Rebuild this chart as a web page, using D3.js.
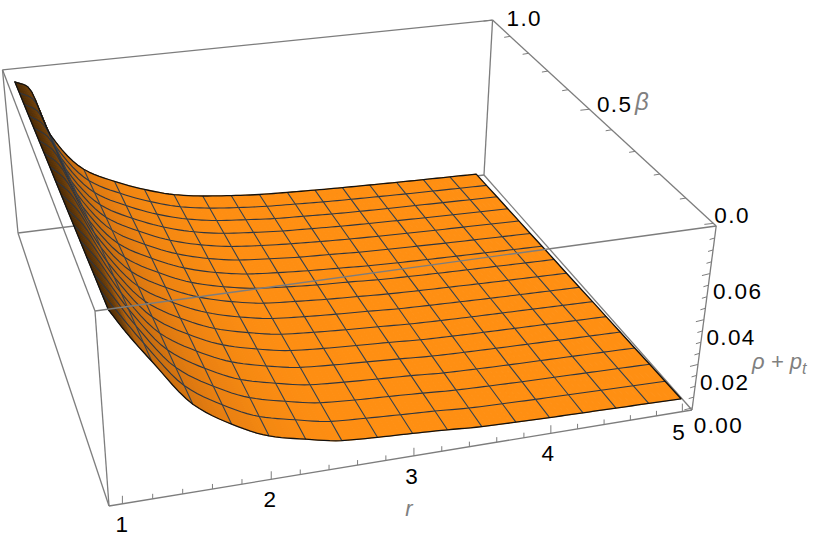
<!DOCTYPE html>
<html>
<head>
<meta charset="utf-8">
<script src="https://cdnjs.cloudflare.com/ajax/libs/d3/7.8.5/d3.min.js"></script>
<style>
  body { margin: 0; background: white; }
  text { font-family: "Liberation Sans", Arial, sans-serif; }
</style>
</head>
<body>
<div id="chart"></div>
<script>
// sample points along r (1.1 is only a sample, it carries no mesh line)
const rValues = [1, 1.1, 1.25, 1.5, 1.75, 2, 2.25, 2.5, 2.75, 3, 3.25, 3.5, 3.75, 4, 4.25, 4.5, 4.75, 5];
const rMesh = [1.25, 1.5, 1.75, 2, 2.25, 2.5, 2.75, 3, 3.25, 3.5, 3.75, 4, 4.25, 4.5, 4.75];
const betaValues = [0, 0.0625, 0.125, 0.1875, 0.25, 0.3125, 0.375, 0.4375, 0.5, 0.5625, 0.625, 0.6875, 0.75, 0.8125, 0.875, 0.9375, 1];

// rho + p_t, one list per r value, running over betaValues
const zAtR = [
  [.0785,.0782,.0779,.0776,.0773,.0770,.0767,.0764,.0761,.0759,.0756,.0753,.0750,.0747,.0744,.0741,.0738],
  [.0687,.0688,.0690,.0691,.0692,.0693,.0695,.0696,.0697,.0699,.0700,.0701,.0703,.0704,.0705,.0707,.0708],
  [.0557,.0551,.0545,.0539,.0533,.0528,.0522,.0516,.0510,.0504,.0498,.0492,.0487,.0481,.0475,.0469,.0463],
  [.0355,.0350,.0345,.0340,.0335,.0330,.0325,.0320,.0315,.0310,.0305,.0300,.0295,.0290,.0285,.0280,.0275],
  [.0245,.0242,.0239,.0236,.0233,.0229,.0226,.0223,.0220,.0217,.0214,.0211,.0208,.0204,.0201,.0198,.0195],
  [.0168,.0166,.0164,.0162,.0160,.0158,.0156,.0154,.0152,.0149,.0147,.0145,.0143,.0141,.0139,.0137,.0135],
  [.0128,.0126,.0123,.0121,.0118,.0116,.0114,.0111,.0109,.0107,.0104,.0102,.0100,.0097,.0095,.0092,.0090],
  [.0096,.0094,.0092,.0090,.0088,.0086,.0084,.0082,.0080,.0078,.0076,.0074,.0072,.0070,.0068,.0066,.0064],
  [.0085,.0083,.0080,.0078,.0076,.0073,.0071,.0069,.0067,.0064,.0062,.0060,.0057,.0055,.0053,.0050,.0048],
  [.0077,.0074,.0072,.0069,.0067,.0064,.0061,.0059,.0056,.0053,.0051,.0048,.0046,.0043,.0040,.0038,.0035],
  [.0068,.0066,.0063,.0061,.0058,.0056,.0053,.0051,.0048,.0046,.0043,.0041,.0038,.0036,.0033,.0031,.0028],
  [.0057,.0055,.0053,.0050,.0048,.0046,.0044,.0042,.0040,.0037,.0035,.0033,.0031,.0029,.0026,.0024,.0022],
  [.0052,.0050,.0048,.0045,.0043,.0041,.0039,.0037,.0035,.0032,.0030,.0028,.0026,.0024,.0021,.0019,.0017],
  [.0048,.0046,.0044,.0041,.0039,.0037,.0035,.0033,.0031,.0028,.0026,.0024,.0022,.0020,.0017,.0015,.0013],
  [.0045,.0043,.0041,.0038,.0036,.0034,.0032,.0029,.0027,.0025,.0023,.0020,.0018,.0016,.0014,.0011,.0009],
  [.0042,.0040,.0038,.0035,.0033,.0031,.0029,.0026,.0024,.0022,.0020,.0017,.0015,.0013,.0011,.0008,.0006],
  [.0039,.0037,.0035,.0032,.0030,.0028,.0026,.0023,.0021,.0019,.0017,.0014,.0012,.0010,.0008,.0005,.0003],
  [.0036,.0034,.0032,.0029,.0027,.0025,.0023,.0020,.0018,.0016,.0014,.0011,.0009,.0007,.0005,.0002,.0000]
];

const rTicks = [1, 2, 3, 4, 5];
const rMinor = [1.2, 1.4, 1.6, 1.8, 2.2, 2.4, 2.6, 2.8, 3.2, 3.4, 3.6, 3.8, 4.2, 4.4, 4.6, 4.8];
const betaTicks = [0, 0.5, 1];
const betaMinor = [0.1, 0.2, 0.3, 0.4, 0.6, 0.7, 0.8, 0.9];
const zTicks = [0, 0.02, 0.04, 0.06];
const zMinor = [0.005, 0.01, 0.015, 0.025, 0.03, 0.035, 0.045, 0.05, 0.055, 0.065, 0.07, 0.075];

const width = 817, height = 545;
const svg = d3.select("#chart").append("svg")
  .attr("width", width).attr("height", height);

// box limits
const rDomain = [0.912, 5.075], betaDomain = [-0.01, 1.0], zDomain = [-0.001, 0.08];
const uScale = d3.scaleLinear().domain(rDomain).range([0, 1]);
const vScale = d3.scaleLinear().domain(betaDomain).range([0, 1]);
const wScale = d3.scaleLinear().domain(zDomain).range([0, 1]);

// camera: projective map from the box onto the page
const cam = { o: [109, 506], u: [692, 410], v: [18, 233], w: [95, 311], pu: 0.0898, pv: 0.2912, pw: -0.065 };

function project(r, beta, z) {
  const u = uScale(r), v = vScale(beta), w = wScale(z);
  const den = 1 + cam.pu * u + cam.pv * v + cam.pw * w;
  return [0, 1].map(i => (cam.o[i]
    + u * ((1 + cam.pu) * cam.u[i] - cam.o[i])
    + v * ((1 + cam.pv) * cam.v[i] - cam.o[i])
    + w * ((1 + cam.pw) * cam.w[i] - cam.o[i])) / den);
}

const line = d3.line();
const [r0, r1] = rDomain, [b0, b1] = betaDomain, [z0, z1] = zDomain;

function edge(a, b) {
  svg.append("path")
    .attr("d", line([project(...a), project(...b)]))
    .attr("fill", "none")
    .attr("stroke", "#7d7d7d")
    .attr("stroke-width", 1.3);
}

// box edges behind the surface
edge([r0, b1, z0], [r1, b1, z0]);
edge([r0, b0, z0], [r0, b1, z0]);
edge([r1, b0, z0], [r1, b1, z0]);
edge([r0, b1, z0], [r0, b1, z1]);
edge([r1, b1, z0], [r1, b1, z1]);

// monotone hermite along r, no overshoot next to the steep wall
function tangent(i, j) {
  if (i === 0) return (zAtR[1][j] - zAtR[0][j]) / (rValues[1] - rValues[0]);
  if (i === rValues.length - 1) return (zAtR[i][j] - zAtR[i - 1][j]) / (rValues[i] - rValues[i - 1]);
  const a = (zAtR[i][j] - zAtR[i - 1][j]) / (rValues[i] - rValues[i - 1]);
  const b = (zAtR[i + 1][j] - zAtR[i][j]) / (rValues[i + 1] - rValues[i]);
  return a * b <= 0 ? 0 : 2 * a * b / (a + b);
}
function zAt(i, t, j) {
  const h = rValues[i + 1] - rValues[i];
  const t2 = t * t, t3 = t2 * t;
  return (2 * t3 - 3 * t2 + 1) * zAtR[i][j] + (t3 - 2 * t2 + t) * h * tangent(i, j)
    + (-2 * t3 + 3 * t2) * zAtR[i + 1][j] + (t3 - t2) * h * tangent(i + 1, j);
}

// steepness at a sample, the wall next to r = 1 is set by hand
const wallSlopes = [0.14, 0.12];
function slopeAt(i, j) {
  if (i < wallSlopes.length) return wallSlopes[i];
  const hi = Math.min(rValues.length - 1, i + 1);
  return (zAtR[i - 1][j] - zAtR[hi][j]) / (rValues[hi] - rValues[i - 1]);
}

const shade = d3.scaleLinear()
  .domain([0, 0.008, 0.014, 0.023, 0.031, 0.052, 0.105, 0.12, 0.14])
  .range(["#ff8f12", "#fe8e12", "#fb8c12", "#f48811", "#ee8311", "#e07a10", "#b0600d", "#70400a", "#4a2a06"])
  .clamp(true);

// sub-quads so the colour runs smoothly along r, far ones first
const sub = 6;
const quads = [];
for (let i = 0; i < rValues.length - 1; i++) {
  const rs = d3.scaleLinear().domain([0, sub]).range([rValues[i], rValues[i + 1]]);
  for (let s = 0; s < sub; s++) {
    for (let j = 0; j < betaValues.length - 1; j++) {
      const ba = betaValues[j], bb = betaValues[j + 1];
      const sl = d3.interpolateNumber(slopeAt(i, j), slopeAt(i + 1, j));
      const pts = [
        project(rs(s), ba, zAt(i, s / sub, j)),
        project(rs(s + 1), ba, zAt(i, (s + 1) / sub, j)),
        project(rs(s + 1), bb, zAt(i, (s + 1) / sub, j + 1)),
        project(rs(s), bb, zAt(i, s / sub, j + 1))
      ];
      quads.push({ pts, slope: sl((s + 0.5) / sub), depth: vScale(ba) * cam.pv + uScale(rs(s)) * cam.pu });
    }
  }
}
quads.sort((a, b) => b.depth - a.depth);

svg.append("g").selectAll("path")
  .data(quads)
  .enter()
  .append("path")
  .attr("d", d => line(d.pts) + "Z")
  .attr("fill", d => shade(d.slope))
  .attr("stroke", d => shade(d.slope))
  .attr("stroke-width", 1);

// mesh
function rowLine(j) {
  const pts = [];
  for (let i = 0; i < rValues.length - 1; i++) {
    const rs = d3.scaleLinear().domain([0, sub]).range([rValues[i], rValues[i + 1]]);
    for (let s = 0; s <= sub; s++) pts.push(project(rs(s), betaValues[j], zAt(i, s / sub, j)));
  }
  return pts;
}
function colLine(i) {
  return betaValues.map((b, j) => project(rValues[i], b, zAtR[i][j]));
}

const mesh = svg.append("g").attr("fill", "none");
for (let j = 1; j < betaValues.length - 1; j++) {
  mesh.append("path").attr("d", line(rowLine(j))).attr("stroke", "#2f3640").attr("stroke-width", 1.1);
}
rMesh.forEach(r => {
  mesh.append("path").attr("d", line(colLine(rValues.indexOf(r)))).attr("stroke", "#36424e").attr("stroke-width", 1.1);
});

// outline
const outline = rowLine(0)
  .concat(colLine(rValues.length - 1))
  .concat(rowLine(betaValues.length - 1).reverse())
  .concat(colLine(0).reverse());
mesh.append("path").attr("d", line(outline) + "Z")
  .attr("stroke", "#111").attr("stroke-width", 1.3).attr("stroke-linejoin", "round");

// box edges in front of it
edge([r0, b0, z1], [r1, b0, z1]);
edge([r0, b1, z1], [r1, b1, z1]);
edge([r0, b0, z1], [r0, b1, z1]);
edge([r1, b0, z1], [r1, b1, z1]);
edge([r0, b0, z0], [r1, b0, z0]);
edge([r0, b0, z0], [r0, b0, z1]);
edge([r1, b0, z0], [r1, b0, z1]);

// ticks
function tick(p, dx, dy) {
  svg.append("path")
    .attr("d", line([p, [p[0] + dx, p[1] + dy]]))
    .attr("stroke", "#7d7d7d").attr("stroke-width", 1);
}
rTicks.forEach(r => tick(project(r, b0, z0), 0, -8));
rMinor.forEach(r => tick(project(r, b0, z0), 0, -5));
betaTicks.forEach(b => tick(project(r1, b, z1), -9, 1));
betaMinor.forEach(b => tick(project(r1, b, z1), -6, 1));
zTicks.forEach(z => tick(project(r1, b0, z), -8, 2));
zMinor.forEach(z => tick(project(r1, b0, z), -5, 1.5));

// tick labels
function label(p, txt, dx, dy, anchor) {
  svg.append("text")
    .attr("x", p[0] + dx).attr("y", p[1] + dy)
    .attr("text-anchor", anchor)
    .attr("font-size", 22.5)
    .attr("letter-spacing", 1.4)
    .attr("fill", "#000")
    .text(txt);
}
rTicks.forEach(r => label(project(r, b0, z0), d3.format("d")(r), -0.8 * (r - 1), 28, "middle"));
betaTicks.forEach(b => label(project(r1, b, z1), d3.format(".1f")(b), 1 + 13 * b, 6 * b, "start"));
zTicks.forEach(z => label(project(r1, b0, z), d3.format(".2f")(z), 1.5 + 25 * z, 25.5, "start"));

// axis titles
const titles = svg.append("g")
  .attr("fill", "#808080").attr("font-style", "italic").attr("font-size", 22);
titles.append("text").attr("x", 409).attr("y", 516).attr("text-anchor", "middle").text("r");
titles.append("text").attr("x", 635).attr("y", 110).attr("font-size", 24).text("β");
const rho = titles.append("text").attr("x", 752).attr("y", 369);
rho.append("tspan").text("ρ + p");
rho.append("tspan").attr("dy", 5).attr("font-size", 16).text("t");
</script>
</body>
</html>
